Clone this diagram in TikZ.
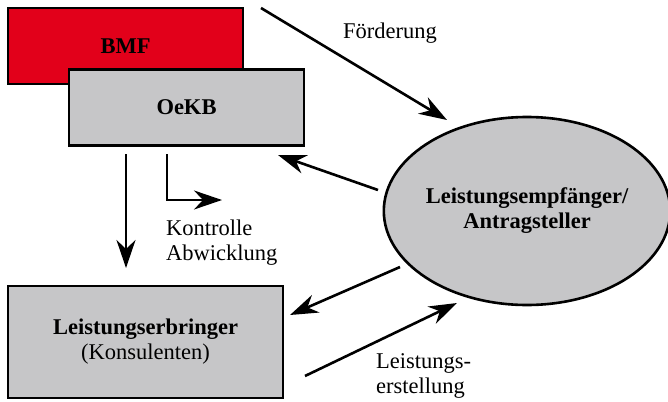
\documentclass[tikz,border=0pt]{standalone}
\usepackage{fontspec}
\setmainfont{Liberation Serif}
\usetikzlibrary{arrows.meta,shapes.geometric}
\definecolor{bmfred}{RGB}{226,0,26}
\definecolor{boxgray}{RGB}{198,198,200}
\begin{document}
\begin{tikzpicture}[x=1pt,y=-1pt,
  every node/.style={font=\fontsize{22.5}{25}\selectfont},
  box/.style={draw=black,line width=2.6pt,rectangle,inner sep=0pt,align=center},
  flow/.style={line width=2.6pt,-{Stealth[length=28pt,width=19pt,inset=9pt]}},
  lbl/.style={align=left,inner sep=0pt}
]
\useasboundingbox (0,0) rectangle (668,401);
% boxes
\node[box,fill=bmfred,minimum width=235pt,minimum height=76pt] (bmf) at (125.5,46) {\bfseries BMF};
\node[box,fill=boxgray,minimum width=235pt,minimum height=76pt] (oekb) at (186.5,107.5) {\bfseries OeKB};
\node[box,fill=boxgray,minimum width=275pt,minimum height=112pt] (le) at (145.5,342) {\textbf{Leistungserbringer}\\(Konsulenten)};
\node[draw=black,line width=2.6pt,ellipse,fill=boxgray,inner sep=0pt,align=center,minimum width=280pt,minimum height=188pt] (ell) at (527,211) {\bfseries Leistungsempfänger/\\\bfseries Antragsteller};
% arrow end points
\coordinate (f1) at (261,8);
\coordinate (f2) at (447,120);
\coordinate (o1) at (378,190);
\coordinate (o2) at (278,155);
\coordinate (d1) at (126,154);
\coordinate (d2) at (126,268);
\coordinate (k1) at (167,154);
\coordinate (k2) at (222,200);
\coordinate (a1) at (400,267);
\coordinate (a2) at (290,315);
\coordinate (b1) at (305,376);
\coordinate (b2) at (457,303);
% arrows
\draw[flow] (f1) -- (f2);
\draw[flow] (o1) -- (o2);
\draw[flow] (d1) -- (d2);
\draw[flow] (k1) |- (k2);
\draw[flow] (a1) -- (a2);
\draw[flow] (b1) -- (b2);
% labels
\node[lbl] (lf) at (390,33) {Förderung};
\node[lbl,anchor=west] (lk) at (166,243) {Kontrolle\\Abwicklung};
\node[lbl,anchor=west] (ll) at (376,376) {Leistungs-\\erstellung};
\end{tikzpicture}
\end{document}
